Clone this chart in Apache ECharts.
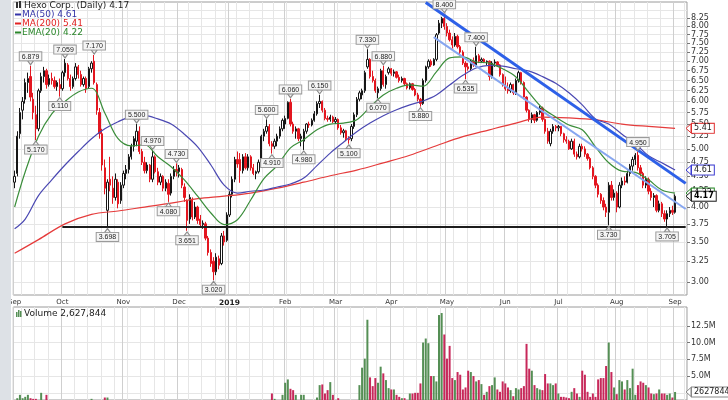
<!DOCTYPE html>
<html><head><meta charset="utf-8">
<script src="https://cdn.jsdelivr.net/npm/echarts/dist/echarts.min.js"></script>
<style>html,body{margin:0;padding:0;background:#fff}#c{width:728px;height:400px}</style>
</head><body><div id="c"></div>
<script>
// ---------- DATA ----------
const firstDay = '2018-09-05';
const lastDay = '2019-09-03';
const holidays = ['2018-11-22','2018-12-05','2018-12-25','2019-01-01','2019-01-21','2019-02-18','2019-04-19','2019-05-27','2019-07-04','2019-09-02'];
const padDays = 4;
const monthNames = ['Jan','Feb','Mar','Apr','May','Jun','Jul','Aug','Sep','Oct','Nov','Dec'];
const priceTicks = [3.00,3.25,3.50,3.75,4.00,4.25,4.50,4.75,5.00,5.25,5.50,5.75,6.00,6.25,6.50,6.75,7.00,7.25,7.50,7.75,8.00,8.25,8.50];
const volumeTicks = [2.5,5.0,7.5,10.0,12.5];
// daily candles [open, high, low, close]
const candles = [
[4.40,4.60,4.30,4.50],[4.55,5.35,4.50,5.25],[5.30,5.85,5.20,5.75],[5.80,6.10,5.60,6.00],[6.05,6.55,5.95,6.45],
[6.45,6.70,6.20,6.55],[6.60,6.879,6.00,6.10],[6.05,6.20,5.60,5.75],[5.70,5.90,5.17,5.40],[5.40,6.30,5.35,6.25],
[6.25,6.70,6.20,6.60],[6.60,6.85,6.45,6.75],[6.75,6.80,6.30,6.40],[6.40,6.65,6.35,6.55],[6.55,6.70,6.40,6.50],
[6.50,6.60,6.30,6.35],[6.35,6.50,6.25,6.45],[6.40,6.55,6.11,6.30],[6.30,6.75,6.25,6.70],[6.70,7.059,6.60,6.95],
[6.90,6.95,6.50,6.55],[6.55,6.65,6.25,6.35],[6.35,6.60,6.30,6.55],[6.55,6.95,6.50,6.85],[6.85,6.90,6.55,6.65],
[6.65,6.75,6.35,6.40],[6.40,6.60,6.35,6.55],[6.55,6.60,6.20,6.30],[6.35,6.85,6.30,6.80],[6.80,7.00,6.70,6.95],
[7.00,7.17,6.40,6.45],[6.40,6.45,5.70,5.80],[5.75,5.85,5.20,5.30],[5.30,5.40,4.60,4.70],[4.65,4.80,4.20,4.30],
[3.95,4.45,3.698,4.40],[4.45,4.85,4.25,4.35],[4.30,4.50,4.05,4.15],[4.15,4.55,4.10,4.45],[4.40,4.45,3.98,4.05],
[4.10,4.40,4.05,4.35],[4.35,4.60,4.30,4.55],[4.55,4.70,4.45,4.62],[4.62,4.90,4.55,4.85],[4.85,5.10,4.80,5.05],
[5.05,5.25,4.95,5.20],[5.15,5.50,5.05,5.35],[5.35,5.45,4.90,4.95],[4.95,5.00,4.70,4.75],[4.75,4.85,4.55,4.60],
[4.60,4.75,4.55,4.70],[4.70,4.72,4.40,4.45],[4.45,4.97,4.40,4.85],[4.85,4.88,4.55,4.58],[4.58,4.65,4.35,4.40],
[4.40,4.55,4.35,4.50],[4.50,4.52,4.25,4.30],[4.30,4.45,4.25,4.40],[4.38,4.45,4.08,4.20],[4.22,4.55,4.18,4.50],
[4.50,4.68,4.45,4.62],[4.62,4.73,4.50,4.58],[4.58,4.70,4.48,4.65],[4.62,4.65,4.30,4.35],[4.32,4.38,4.08,4.15],
[4.10,4.12,3.651,3.80],[3.82,4.20,3.75,4.15],[4.12,4.15,3.80,3.85],[3.85,4.08,3.82,4.00],[4.00,4.02,3.75,3.80],
[3.82,3.88,3.70,3.74],[3.74,3.80,3.68,3.76],[3.75,3.78,3.52,3.55],[3.55,3.58,3.32,3.36],[3.36,3.40,3.18,3.22],
[3.25,3.30,3.02,3.12],[3.12,3.35,3.08,3.30],[3.28,3.32,3.15,3.20],[3.22,3.62,3.20,3.58],[3.58,3.65,3.45,3.50],
[3.52,3.92,3.50,3.88],[3.88,4.25,3.85,4.20],[4.20,4.50,4.15,4.45],[4.45,4.85,4.40,4.80],[4.80,4.95,4.65,4.72],
[4.80,4.92,4.39,4.60],[4.60,4.90,4.55,4.85],[4.85,4.92,4.62,4.65],[4.65,4.90,4.60,4.85],[4.85,4.88,4.60,4.65],
[4.65,4.72,4.52,4.55],[4.55,4.60,4.45,4.58],[4.58,4.80,4.55,4.75],[4.75,5.28,4.72,5.25],[5.25,5.40,5.15,5.35],
[5.35,5.60,5.30,5.45],[5.45,5.50,5.05,5.10],[5.10,5.15,4.91,5.05],[5.05,5.20,5.00,5.15],[5.15,5.30,5.05,5.25],
[5.25,5.45,5.20,5.40],[5.40,5.62,5.35,5.58],[5.50,5.68,5.40,5.62],[5.62,6.00,5.60,5.98],[5.98,6.06,5.45,5.50],
[5.50,5.55,5.30,5.35],[5.35,5.45,5.20,5.40],[5.40,5.42,5.15,5.20],[5.20,5.30,5.05,5.25],[5.15,5.40,4.98,5.35],
[5.35,5.52,5.30,5.50],[5.50,5.55,5.42,5.48],[5.48,5.62,5.45,5.58],[5.58,5.78,5.55,5.72],[5.72,6.00,5.68,5.95],
[5.95,6.15,5.85,6.00],[6.00,6.02,5.75,5.80],[5.80,5.85,5.58,5.62],[5.62,5.68,5.55,5.60],[5.60,5.70,5.55,5.65],
[5.65,5.68,5.52,5.55],[5.55,5.65,5.50,5.60],[5.60,5.62,5.38,5.42],[5.42,5.48,5.28,5.32],[5.32,5.40,5.22,5.36],
[5.36,5.38,5.15,5.20],[5.20,5.25,5.10,5.18],[5.20,5.50,5.15,5.45],[5.45,5.75,5.40,5.70],[5.70,6.10,5.65,6.05],
[6.05,6.25,6.00,6.20],[6.15,6.30,6.05,6.25],[6.25,6.75,6.20,6.70],[6.85,7.33,6.80,7.05],[7.05,7.08,6.55,6.60],
[6.60,6.75,6.45,6.50],[6.50,6.55,6.20,6.25],[6.20,6.35,6.07,6.30],[6.30,6.80,6.25,6.75],[6.75,6.88,6.35,6.40],
[6.40,6.65,6.30,6.60],[6.70,6.85,6.65,6.80],[6.80,6.82,6.62,6.68],[6.68,6.78,6.60,6.72],[6.72,6.74,6.55,6.58],
[6.58,6.65,6.45,6.50],[6.50,6.60,6.45,6.55],[6.55,6.57,6.38,6.42],[6.42,6.45,6.28,6.32],[6.32,6.45,6.28,6.42],
[6.42,6.44,6.25,6.28],[6.28,6.32,6.12,6.15],[6.15,6.20,6.00,6.05],[6.05,6.08,5.88,5.95],[5.95,6.55,5.92,6.50],
[6.50,6.88,6.45,6.85],[6.85,7.05,6.80,7.00],[7.00,7.05,6.85,6.90],[6.90,7.08,6.88,7.05],[7.05,7.80,7.00,7.75],
[7.80,8.20,7.75,8.10],[8.10,8.30,7.95,8.25],[8.25,8.40,7.90,8.00],[8.00,8.10,7.70,7.80],[7.80,7.90,7.55,7.60],
[7.60,7.70,7.35,7.45],[7.45,7.80,7.40,7.70],[7.70,7.75,7.35,7.40],[7.40,7.45,7.15,7.25],[7.25,7.30,6.90,6.95],
[6.95,7.00,6.535,6.85],[6.85,6.95,6.75,6.80],[6.80,7.05,6.75,7.00],[7.00,7.10,6.85,6.90],[6.90,7.40,6.85,7.15],
[7.15,7.20,6.95,7.00],[7.00,7.10,6.95,7.05],[7.05,7.08,6.95,6.98],[6.98,7.02,6.90,7.00],[7.00,7.02,6.50,6.60],
[6.60,7.00,6.55,6.95],[6.95,7.05,6.85,6.98],[6.98,7.00,6.85,6.90],[6.90,6.92,6.60,6.65],[6.65,6.68,6.35,6.40],
[6.40,6.60,6.25,6.30],[6.30,6.45,6.18,6.25],[6.25,6.45,6.20,6.40],[6.40,6.42,6.15,6.20],[6.20,6.55,6.15,6.50],
[6.50,6.75,6.45,6.70],[6.70,6.72,6.40,6.45],[6.45,6.48,6.05,6.10],[6.10,6.12,5.75,5.80],[5.80,5.82,5.55,5.60],
[5.60,5.75,5.52,5.70],[5.70,5.72,5.52,5.58],[5.58,5.78,5.55,5.75],[5.75,5.90,5.70,5.85],[5.85,5.88,5.55,5.60],
[5.60,5.62,5.30,5.35],[5.35,5.42,5.10,5.15],[5.10,5.40,5.05,5.35],[5.35,5.50,5.30,5.45],[5.45,5.48,5.35,5.42],
[5.42,5.48,5.35,5.45],[5.45,5.46,5.25,5.30],[5.30,5.32,5.12,5.18],[5.18,5.25,5.10,5.15],[5.15,5.18,4.98,5.00],
[5.00,5.20,4.98,5.15],[5.15,5.20,4.85,4.90],[4.90,4.95,4.80,4.85],[4.85,5.10,4.82,5.05],[5.05,5.10,4.95,5.00],
[5.00,5.05,4.85,4.90],[4.90,4.92,4.78,4.82],[4.82,4.85,4.62,4.65],[4.65,4.68,4.45,4.50],[4.50,4.52,4.30,4.35],
[4.35,4.38,4.15,4.20],[4.20,4.22,4.05,4.10],[4.10,4.15,3.95,4.00],[4.00,4.05,3.85,3.92],[3.92,4.40,3.73,4.35],
[4.35,4.42,4.10,4.15],[4.15,4.28,4.10,4.22],[4.22,4.25,3.92,4.00],[4.00,4.40,3.98,4.35],[4.35,4.48,4.30,4.42],
[4.42,4.50,4.35,4.40],[4.40,4.60,4.38,4.55],[4.55,4.72,4.50,4.68],[4.68,4.85,4.60,4.80],[4.80,4.92,4.70,4.88],
[4.88,4.95,4.60,4.65],[4.65,4.70,4.50,4.55],[4.55,4.58,4.30,4.35],[4.35,4.50,4.30,4.45],[4.45,4.48,4.20,4.25],
[4.25,4.30,4.10,4.15],[4.15,4.22,4.00,4.18],[4.18,4.20,3.92,3.95],[3.95,4.10,3.92,4.05],[4.05,4.08,3.85,3.90],
[3.90,3.95,3.78,3.82],[3.82,3.95,3.705,3.90],[3.90,4.00,3.85,3.95],[3.95,4.02,3.88,3.92],[3.92,4.20,3.90,4.17]
];
const lastVolume = 2627844;
// daily volume, millions
const volume = [
1.3,1.7,2.2,1.7,1.9,2.2,1.7,1.6,1.6,1.3, 2.5,1.4,2.2,1.1,1.0,1.1,0.9,1.0,1.2,1.3,
1.1,1.0,0.9,1.2,1.0,1.1,0.9,1.0,1.3,1.6, 1.4,1.3,1.2,1.3,1.8,1.8,1.3,1.1,1.0,1.0,
0.9,0.9,0.8,1.0,1.1,1.2,1.3,1.1,0.9,0.8, 0.7,0.8,1.0,0.8,0.7,0.6,0.7,0.8,0.9,0.8,
0.7,0.6,0.7,0.8,0.9,1.0,0.8,0.7,1.0,0.8, 0.7,0.6,0.7,0.8,0.6,0.7,0.8,0.9,0.7,0.8,
1.0,1.1,1.0,0.9,0.8,0.7,0.8,0.9,1.0,0.8, 0.7,0.8,1.0,1.2,1.3,1.1,1.2,2.4,1.6,1.2,
1.3,2.2,4.0,4.5,3.1,2.9,2.2,1.3,2.2,2.2, 1.2,1.1,1.2,1.3,1.8,3.65,3.75,2.4,2.9,4.1,
2.2,1.3,1.7,1.2,1.1,1.2,1.3,1.2,1.3,1.3, 3.65,6.25,7.6,13.4,4.8,3.5,4.7,4.0,6.4,5.4,
4.4,3.2,3.0,3.0,2.2,1.9,1.7,1.7,1.2,2.4, 2.4,2.5,2.5,3.9,10.0,10.6,9.9,5.0,5.0,4.2,
14.1,14.4,11.2,7.6,9.5,4.7,4.4,5.6,5.2,3.0, 3.3,5.8,5.6,5.0,4.2,4.4,3.8,2.2,2.65,3.5,
3.65,4.8,3.0,2.65,4.2,3.9,3.3,2.9,2.0,3.2, 3.0,3.2,3.5,9.8,6.1,5.8,3.65,3.2,3.0,2.9,
5.3,3.9,3.9,3.65,3.9,2.4,1.9,1.9,1.8,1.7, 2.65,3.2,2.4,1.9,5.8,5.2,2.65,1.9,2.4,1.9,
4.5,4.7,4.7,6.5,10.0,5.6,3.3,2.3,4.4,4.2, 3.0,4.4,3.2,6.1,2.2,3.65,4.2,4.0,3.65,3.3,
2.4,2.3,2.4,3.0,2.4,2.4,2.2,2.4,1.8, lastVolume/1e6
];
// moving averages: [day index, value]
const ema20 = [[0,4.00],[4,4.58],[9,5.25],[14,5.72],[19,6.00],[24,6.22],[29,6.31],[34,5.74],[39,5.20],[44,5.06],[49,5.08],[54,4.85],[59,4.67],[64,4.44],[69,4.17],[74,3.91],[79,3.74],[84,3.81],[89,4.11],[94,4.46],[99,4.69],[104,5.02],[109,5.18],[114,5.38],[119,5.50],[124,5.52],[129,5.59],[134,5.87],[139,6.15],[144,6.31],[149,6.39],[154,6.36],[159,6.72],[164,7.09],[169,7.12],[174,6.98],[179,6.95],[184,6.80],[189,6.59],[194,6.20],[199,5.85],[204,5.65],[209,5.48],[214,5.38],[219,5.04],[224,4.74],[229,4.59],[234,4.57],[239,4.44],[244,4.27],[249,4.22]];
const ma50 = [[0,3.68],[4,3.82],[9,4.18],[14,4.44],[19,4.70],[24,4.95],[29,5.20],[34,5.40],[39,5.55],[44,5.66],[49,5.68],[54,5.61],[59,5.50],[64,5.29],[69,5.04],[74,4.70],[79,4.35],[84,4.22],[89,4.25],[94,4.27],[99,4.32],[104,4.37],[109,4.47],[114,4.69],[119,4.92],[124,5.13],[129,5.34],[134,5.52],[139,5.68],[144,5.81],[149,5.92],[154,6.01],[159,6.15],[164,6.39],[169,6.63],[174,6.82],[179,6.89],[184,6.87],[189,6.80],[194,6.74],[199,6.60],[204,6.43],[209,6.20],[214,5.92],[219,5.61],[224,5.50],[229,5.29],[234,5.10],[239,4.87],[244,4.74],[249,4.61]];
const ma200 = [[0,3.35],[9,3.53],[19,3.75],[29,3.89],[39,3.94],[49,4.00],[59,4.06],[69,4.13],[79,4.17],[89,4.22],[99,4.30],[109,4.40],[119,4.51],[129,4.61],[139,4.74],[149,4.88],[159,5.06],[169,5.24],[179,5.38],[189,5.52],[199,5.65],[209,5.63],[219,5.59],[229,5.50],[239,5.45],[249,5.41]];
// swing labels [day index, price]
const highLabels = [[6,6.879],[19,7.059],[30,7.170],[46,5.500],[52,4.970],[61,4.730],[95,5.600],[104,6.060],[115,6.150],[133,7.330],[139,6.880],[162,8.400],[174,7.400],[235,4.950]];
const lowLabels = [[8,5.170],[17,6.110],[35,3.698],[58,4.080],[65,3.651],[75,3.020],[97,4.910],[109,4.980],[126,5.100],[137,6.070],[153,5.880],[170,6.535],[224,3.730],[246,3.705]];
// drawn annotation lines [[day index, price],[day index, price]]
const trendThick = [[155,8.77],[253,4.38]];
const trendThin = [[158,7.68],[253,3.97]];
const supportLine = [[18,3.712],[253,3.712]];

// ---------- BUILD ----------
function makeDays(){
  const out=[]; let d=new Date(firstDay+'T00:00:00Z'); const end=new Date(lastDay+'T00:00:00Z');
  let extra=0;
  while(true){
    const wd=d.getUTCDay(); const s=d.toISOString().slice(0,10);
    if(wd>0&&wd<6&&!holidays.includes(s)){ if(d<=end) out.push(s); else { out.push(s); extra++; if(extra>=padDays) break; } }
    d=new Date(d.getTime()+86400000);
  }
  return out;
}
const days = makeDays();
const dObj = days.map(s=>new Date(s+'T00:00:00Z'));
const weekStart = days.map((s,i)=> i>0 && dObj[i].getUTCDay() < dObj[i-1].getUTCDay());
const monthStart = days.map((s,i)=> i===0 || dObj[i].getUTCMonth() !== dObj[i-1].getUTCMonth());

const RED='#e3161f', BLK='#161616', VGREEN='#558f55', VRED='#c7285a';
const candleData = candles.map((r,i)=>{
  const [o,h,l,c]=r; const prev = i? candles[i-1][3] : o;
  const col = c>=prev ? BLK : RED; const fill = c>o ? '#ffffff' : col;
  return {value:[o,c,l,h], itemStyle:{color:fill,color0:fill,borderColor:col,borderColor0:col,borderColorDoji:col}};
});
const volData = volume.map((v,i)=>({value:v, itemStyle:{color:(i===0||candles[i][3]>=candles[i-1][3])?VGREEN:VRED}}));

const font='DejaVu Sans';
const L=13.3, R=41;
function xAx(grid, pos, labels, lineColor, intervalArr){
  return {type:'category', gridIndex:grid, data:days, position:pos, boundaryGap:true,
    axisLine:{show:false}, axisTick:{show:false},
    axisLabel: labels ? {show:true, interval:(i)=>monthStart[i], margin:4, fontSize:7, fontFamily:font, color:'#333',
      formatter:(v)=>{const d=new Date(v+'T00:00:00Z'); return d.getUTCMonth()===0 ? '{b|'+d.getUTCFullYear()+'}' : monthNames[d.getUTCMonth()];},
      rich:{b:{fontWeight:'bold', fontSize:7.5, fontFamily:font, color:'#222'}}} : {show:false},
    splitLine:{show:true, interval:(i)=>intervalArr[i], lineStyle:{color:lineColor, width:1}}};
}
const markLabel = {show:true, formatter:'{c}', fontSize:7, fontFamily:'Liberation Sans', color:'#222',
  backgroundColor:'#f5f5f5', borderColor:'#9a9a9a', borderWidth:1, padding:[1,2,0,2]};
const mpData = [
  ...highLabels.map(([i,p])=>({coord:[i,p], value:p.toFixed(3), symbol:'path://M0,0L10,0L5,7Z', symbolSize:[6,4], symbolOffset:[0,-3], label:{position:'top', distance:0}})),
  ...lowLabels.map(([i,p])=>({coord:[i,p], value:p.toFixed(3), symbol:'triangle', symbolSize:[6,4], symbolOffset:[0,3], label:{position:'bottom', distance:0}}))
];
const lineSeries = (name, data, color)=>({name, type:'line', xAxisIndex:0, yAxisIndex:0, data, smooth:0.35, symbol:'none',
  lineStyle:{color, width:1.2}, z:4, silent:true});

// volume panel: its zero line sits ~10px below the picture edge, so the visible axis starts above 0
const volMin = 1.43, volMax = 15.3;

const option = {
  animation:false,
  backgroundColor:'#ffffff',
  grid:[
    {left:L, right:R, top:2, height:293, show:true, borderColor:'#9a9a9a', borderWidth:1, backgroundColor:'#ffffff'},
    {left:L, right:R, top:307, bottom:0, show:true, borderColor:'#9a9a9a', borderWidth:1, backgroundColor:'#ffffff'}
  ],
  xAxis:[
    xAx(0,'top',false,'#e6e6e6',weekStart),
    xAx(0,'bottom',true,'#cfcfcf',monthStart),
    xAx(1,'top',false,'#e6e6e6',weekStart),
    xAx(1,'bottom',false,'#cfcfcf',monthStart)
  ],
  yAxis:[
    {type:'log', gridIndex:0, min:2.854, max:8.786, position:'right', logBase:10,
      axisLine:{show:false},
      axisTick:{show:true, length:3, customValues:priceTicks, lineStyle:{color:'#777'}},
      axisLabel:{show:true, customValues:priceTicks, formatter:(v)=>Number(v).toFixed(2), fontSize:8, fontFamily:font, color:'#333', margin:4},
      splitLine:{show:true, lineStyle:{color:'#e6e6e6'}}},
    {type:'value', gridIndex:1, min:volMin, max:volMax, position:'right',
      axisLine:{show:false},
      axisTick:{show:true, length:3, customValues:volumeTicks, lineStyle:{color:'#777'}},
      axisLabel:{customValues:volumeTicks, formatter:(v)=> Number(v).toFixed(1)+'M', fontSize:8, fontFamily:font, color:'#333', margin:4},
      splitLine:{show:true, lineStyle:{color:'#e6e6e6'}}}
  ],
  series:[
    {name:'Hexo', type:'candlestick', xAxisIndex:0, yAxisIndex:0, data:candleData, barWidth:1.8, z:3, silent:true,
      markPoint:{silent:true, z:6, data:mpData, itemStyle:{color:'#f3f3f3', borderColor:'#8a8a8a', borderWidth:1}, label:markLabel},
      markLine:{silent:true, symbol:['none','none'], label:{show:false}, z:5,
        data:[
          [{coord:trendThick[0], lineStyle:{color:'#2d60e8', width:3, type:'solid'}},{coord:trendThick[1]}],
          [{coord:trendThin[0], lineStyle:{color:'#86a6f0', width:2, type:'solid'}},{coord:trendThin[1]}],
          [{coord:supportLine[0], lineStyle:{color:'#1c1c1c', width:2, type:'solid'}},{coord:supportLine[1]}]
        ]}},
    lineSeries('MA(200)', ma200, '#e53b3b'),
    lineSeries('MA(50)', ma50, '#4a48b2'),
    lineSeries('EMA(20)', ema20, '#3a8d3a'),
    {name:'Volume', type:'bar', xAxisIndex:2, yAxisIndex:1, data:volData, barWidth:2, silent:true, clip:true}
  ]
};
const chart = echarts.init(document.getElementById('c'), null, {renderer:'canvas', width:728, height:400});
chart.setOption(option);

// ---------- text overlays ----------
const lastClose = candles[candles.length-1][3];
const lastOf = a => a[a.length-1][1];
const g = [];
g.push({type:'rect', z:90, shape:{x:0,y:0,width:11,height:400}, style:{fill:'#dde1e6'}});
// legend
g.push({type:'rect', z:100, shape:{x:16,y:2,width:2,height:6}, style:{fill:'#333'}});
g.push({type:'rect', z:100, shape:{x:19,y:1,width:2,height:7}, style:{fill:'#333'}});
g.push({type:'text', z:100, x:24, y:5.5, style:{text:'Hexo Corp. (Daily) '+lastClose.toFixed(2), font:'9px '+font, fill:'#222', verticalAlign:'middle'}});
const leg = [['MA(50) '+lastOf(ma50).toFixed(2),'#3434a8'],['MA(200) '+lastOf(ma200).toFixed(2),'#e22222'],['EMA(20) '+lastOf(ema20).toFixed(2),'#2a862a']];
leg.forEach(([t,c],k)=>{
  const y=14.5+k*9;
  g.push({type:'line', z:100, shape:{x1:15,y1:y,x2:21,y2:y}, style:{stroke:c, lineWidth:2}});
  g.push({type:'text', z:100, x:22, y:y, style:{text:t, font:'9px '+font, fill:c, verticalAlign:'middle'}});
});
g.push({type:'rect', z:100, shape:{x:16,y:312,width:1.5,height:5}, style:{fill:VGREEN}});
g.push({type:'rect', z:100, shape:{x:18,y:310,width:1.5,height:7}, style:{fill:VGREEN}});
g.push({type:'rect', z:100, shape:{x:20,y:311,width:1.5,height:6}, style:{fill:VGREEN}});
g.push({type:'text', z:100, x:24, y:313.5, style:{text:'Volume '+lastVolume.toLocaleString('en-US'), font:'9px '+font, fill:'#222', verticalAlign:'middle'}});
// right-axis tags
function addTag(y, text, border, color, bold){
  g.push({type:'polygon', z:110, shape:{points:[[686,y],[691,y-4.5],[691,y+4.5]]}, style:{fill:'#fff', stroke:border, lineWidth:1}});
  g.push({type:'text', z:111, x:692, y:y, style:{text, font:(bold?'bold ':'')+'8px '+font, fill:color, verticalAlign:'middle', align:'left',
    backgroundColor:'#fff', borderColor:border, borderWidth:1, padding:[1,2,0,2]}});
}
const yP = v => chart.convertToPixel({yAxisIndex:0}, v);
addTag(yP(lastOf(ma200)), lastOf(ma200).toFixed(2), '#e03030', '#222', false);
addTag(yP(lastOf(ma50)), lastOf(ma50).toFixed(2), '#3b3bd0', '#222', false);
addTag(yP(lastOf(ema20)), lastOf(ema20).toFixed(2), '#2a8a2a', '#222', false);
addTag(yP(lastClose), lastClose.toFixed(2), '#222', '#000', true);
addTag(chart.convertToPixel({yAxisIndex:1}, lastVolume/1e6), String(lastVolume), '#888', '#222', false);
chart.setOption({graphic:g});
</script></body></html>
